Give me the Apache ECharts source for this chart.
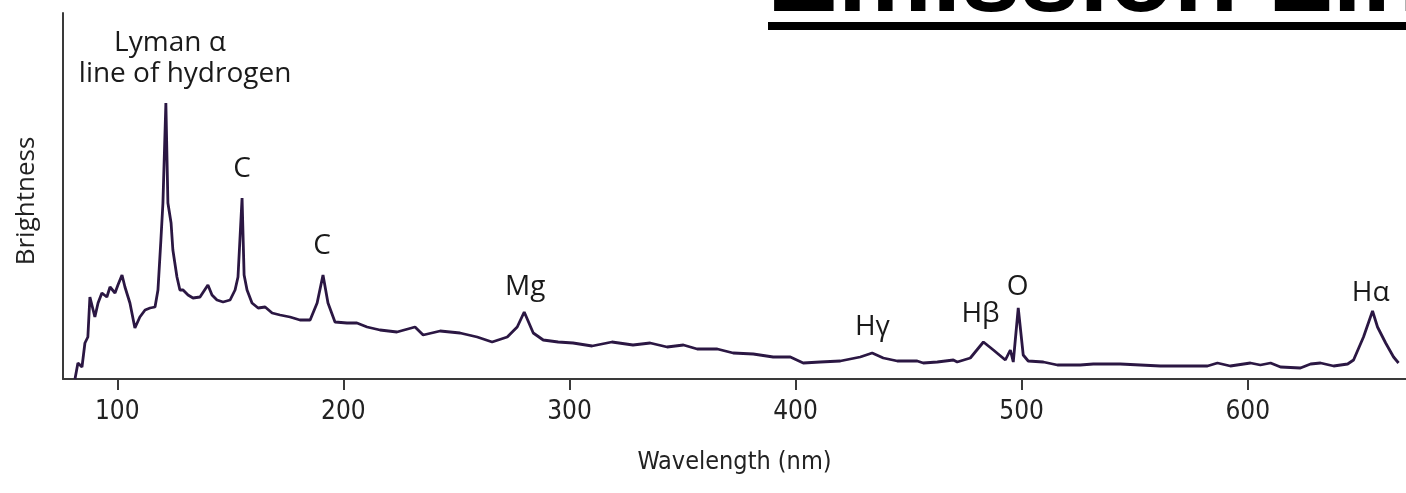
<!DOCTYPE html>
<html>
<head>
<meta charset="utf-8">
<style>
  html, body { margin: 0; padding: 0; background: #ffffff; }
  #chart { width: 1406px; height: 493px; }
</style>
<script src="https://cdn.jsdelivr.net/npm/echarts@6/dist/echarts.min.js"></script>
</head>
<body>
<div id="chart"></div>
<script>
// ---- data (wavelength in nm, brightness in arbitrary units) ----
const wavelengths = [
  81.3, 82.6, 84.4, 85.7, 87.0, 87.9, 90.1, 91.5, 93.2, 95.4, 96.8, 99.0, 100.3, 102.1, 103.4,
  105.6, 107.8, 110.0, 112.3, 114.5, 116.7, 118.0, 119.3, 120.2, 121.5, 122.4, 123.8, 124.6,
  126.4, 127.7, 129.1, 131.3, 133.5, 136.6, 140.1, 141.9, 144.1, 146.8, 149.9, 152.1, 153.4,
  155.2, 156.1, 157.4, 159.6, 162.3, 165.4, 168.5, 172.0, 176.4, 180.8, 185.3, 188.4, 191.0,
  193.2, 196.3, 201.6, 206.0, 210.5, 216.2, 223.7, 231.7, 235.3, 242.8, 251.6, 259.2, 265.8,
  272.5, 276.9, 280.0, 284.0, 288.4, 295.0, 301.6, 310.0, 318.8, 328.1, 335.7, 343.2, 350.4,
  356.5, 365.4, 372.4, 381.3, 390.1, 397.7, 403.4, 410.9, 419.8, 428.6, 433.9, 438.8, 445.0,
  453.8, 456.5, 462.7, 469.8, 471.5, 477.3, 483.1, 487.5, 492.8, 495.0, 496.3, 498.5, 500.7,
  502.9, 509.6, 515.8, 525.9, 531.7, 543.6, 561.4, 582.2, 586.6, 592.3, 601.2, 605.6, 610.1,
  614.5, 623.3, 627.8, 632.2, 638.0, 644.2, 646.8, 651.2, 655.2, 657.4, 661.0, 664.5, 666.7
];
const brightness = [
  0, 16, 12, 36, 42, 82, 62, 76, 86, 82, 92, 86, 94, 104, 92,
  76, 51, 62, 69, 71, 72, 89, 139, 176, 276, 176, 156, 129,
  102, 89, 89, 84, 81, 82, 94, 84, 79, 77, 79, 89, 102,
  181, 104, 89, 76, 71, 72, 66, 64, 62, 59, 59, 76, 104,
  76, 57, 56, 56, 52, 49, 47, 52, 44, 48, 46, 42, 37,
  42, 52, 67, 46, 39, 37, 36, 33, 37, 34, 36, 32, 34,
  30, 30, 26, 25, 22, 22, 16, 17, 18, 22, 26, 21, 18,
  18, 16, 17, 19, 17, 21, 37, 29, 19, 29, 17, 71, 24,
  18, 17, 14, 14, 15, 15, 13, 13, 16, 13, 16, 14, 16,
  12, 11, 15, 16, 13, 15, 19, 42, 68, 52, 36, 22, 16
];
const xTickValues = [100, 200, 300, 400, 500, 600];

// line annotations (anchor in data units)
const annotationLabels = ['Lyman α', 'line of hydrogen', 'C', 'C', 'Mg', 'Hγ', 'Hβ', 'O', 'Hα'];
const annotationX = [123.3, 130.0, 155.2, 190.6, 280.4, 434.0, 481.8, 498.2, 654.4];
const annotationY = [336, 305, 210, 133, 92, 52, 65, 92, 86];

const titleText = 'Emission Lines';

// ---- chart ----
const chart = echarts.init(document.getElementById('chart'), null, { renderer: 'canvas' });

const lineData = wavelengths.map((w, i) => [w, brightness[i]]);
const annData = annotationLabels.map((t, i) => ({ name: t, value: [annotationX[i], annotationY[i]] }));

const labelFont = '"Open Sans", "Noto Sans", sans-serif';
const axisFont = '"Liberation Sans Narrow", "DejaVu Sans Condensed", "Liberation Sans", sans-serif';

chart.setOption({
  backgroundColor: '#ffffff',
  animation: false,
  grid: { left: 63, right: 0, top: 13, bottom: 114, containLabel: false, outerBoundsMode: 'none' },
  xAxis: {
    type: 'value',
    min: 76,
    max: 670,
    name: 'Wavelength (nm)',
    nameLocation: 'middle',
    nameGap: 71,
    nameTextStyle: { fontFamily: axisFont, fontSize: 25, color: '#222222' },
    axisLine: { show: true, onZero: false, lineStyle: { color: '#3a3a3a', width: 2 } },
    axisTick: { show: true, customValues: xTickValues, length: 11, lineStyle: { color: '#3a3a3a', width: 2 } },
    axisLabel: {
      show: true, customValues: xTickValues, margin: 20,
      fontFamily: axisFont, fontSize: 26, color: '#222222'
    },
    splitLine: { show: false }
  },
  yAxis: {
    type: 'value',
    min: 0,
    max: 366,
    name: 'Brightness',
    nameLocation: 'middle',
    nameGap: 23,
    nameTextStyle: { fontFamily: labelFont, fontSize: 26, color: '#222222', padding: [0, 10, 0, 0] },
    axisLine: { show: true, lineStyle: { color: '#3a3a3a', width: 2 } },
    axisTick: { show: false },
    axisLabel: { show: false },
    splitLine: { show: false }
  },
  series: [
    {
      type: 'line',
      data: lineData,
      showSymbol: false,
      smooth: false,
      lineStyle: { color: '#2b1743', width: 2.8 },
      z: 3
    },
    {
      type: 'scatter',
      data: annData,
      symbolSize: 0,
      silent: true,
      itemStyle: { opacity: 1 },
      label: {
        show: true,
        position: 'inside',
        formatter: p => p.name,
        fontFamily: labelFont,
        fontSize: 28,
        color: '#1a1a1a',
        opacity: 1
      },
      z: 4
    }
  ],
  graphic: [
    {
      type: 'text',
      x: 767,
      y: -18,
      style: {
        text: titleText,
        font: 'bold 106px "Liberation Sans", Arial, sans-serif',
        fill: '#000000',
        textAlign: 'left',
        textVerticalAlign: 'middle'
      },
      z: 10
    },
    {
      type: 'rect',
      x: 768,
      y: 22,
      shape: { x: 0, y: 0, width: 638, height: 8 },
      style: { fill: '#000000' },
      z: 10
    }
  ]
});
</script>
</body>
</html>
